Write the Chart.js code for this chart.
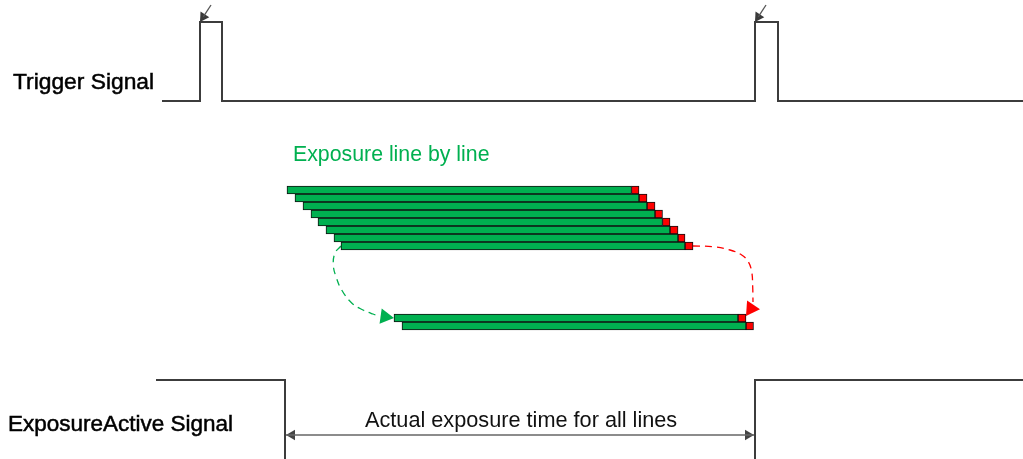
<!DOCTYPE html>
<html><head><meta charset="utf-8">
<script src="https://cdn.jsdelivr.net/npm/chart.js@4.4.0/dist/chart.umd.min.js"></script>
<style>html,body{margin:0;padding:0;background:#fff;}#wrap{width:1023px;height:459px;}</style>
</head><body><div id="wrap"><canvas id="c" width="1023" height="459"></canvas></div>
<script>
// ---- timing values (time axis units, signal level units) ----
const triggerTimes = [162, 200, 222, 755, 778, 1023];
const triggerLevels = [101, 22, 101, 22, 101, 101];
const activeTimes = [156, 285, 755, 1023];
const activeLevels = [380, 466, 380, 380];

// line-by-line exposure (upper block)
const lineRows = [190, 198, 206, 214, 222, 230, 238, 246];
const exposureStart = [287, 295, 303, 311, 318, 326, 334, 341];
const readoutStart = [631.5, 639, 647, 655, 662.5, 670, 678, 685];
const readoutEnd = [639, 647, 655, 662.5, 670, 678, 685, 693];
// last lines (lower block)
const lastRows = [318, 326];
const lastExposureStart = [394, 402];
const lastReadoutStart = [738, 746];
const lastReadoutEnd = [746, 753.5];

// dashed guide curves
const greenCurveX = [341, 335, 333.3, 336, 341.7, 351.7, 363, 373, 380];
const greenCurveY = [246, 253, 265, 276.7, 290, 303, 310, 314, 316];
const redCurveX = [693, 713, 730, 741.7, 748.3, 751.7, 752.7, 753];
const redCurveY = [246, 246.7, 250, 255, 261.7, 271.7, 286.7, 302];

// arrows: [tailX, tailY, tipX, tipY]
const triggerArrows = [[211, 5, 200, 22], [766, 5, 755, 22]];
const spanArrow = [285, 755, 435];

const texts = [
  {t: 'Trigger Signal', x: 13, y: 89, size: 22.8, color: '#000', stroke: 0.5},
  {t: 'Exposure line by line', x: 293, y: 161, size: 21.3, color: '#00b050', stroke: 0},
  {t: 'ExposureActive Signal', x: 8, y: 431, size: 22.5, color: '#000', stroke: 0.5},
  {t: 'Actual exposure time for all lines', x: 365, y: 427, size: 21.7, color: '#111', stroke: 0}
];

const GREEN = '#00b050', RED = '#ff0000', SIG = '#3c3c3c';
const pts = (xs, ys) => xs.map((x, i) => ({x, y: ys[i]}));

function head(tipX, tipY, rot, r) {
  const a = rot * Math.PI / 180;
  return {x: tipX - Math.sin(a) * r, y: tipY + Math.cos(a) * r};
}
function rotOf(dx, dy) {
  return Math.atan2(dx, -dy) * 180 / Math.PI;
}

const datasets = [];
datasets.push({type: 'line', data: pts(triggerTimes, triggerLevels), stepped: true, borderColor: SIG, borderWidth: 2, pointRadius: 0, fill: false});
datasets.push({type: 'line', data: pts(activeTimes, activeLevels), stepped: true, borderColor: SIG, borderWidth: 2, pointRadius: 0, fill: false});

const barCommon = {type: 'bar', indexAxis: 'y', grouped: false, barThickness: 8, borderColor: '#111', borderWidth: 1, borderSkipped: false};
datasets.push(Object.assign({}, barCommon, {backgroundColor: GREEN, data: lineRows.map((r, i) => ({y: r, x: [exposureStart[i], readoutStart[i]]}))}));
datasets.push(Object.assign({}, barCommon, {backgroundColor: RED, data: lineRows.map((r, i) => ({y: r, x: [readoutStart[i], readoutEnd[i]]}))}));
datasets.push(Object.assign({}, barCommon, {backgroundColor: GREEN, data: lastRows.map((r, i) => ({y: r, x: [lastExposureStart[i], lastReadoutStart[i]]}))}));
datasets.push(Object.assign({}, barCommon, {backgroundColor: RED, data: lastRows.map((r, i) => ({y: r, x: [lastReadoutStart[i], lastReadoutEnd[i]]}))}));

datasets.push({type: 'line', data: pts(greenCurveX, greenCurveY), borderColor: GREEN, borderWidth: 1.3, borderDash: [7, 5], tension: 0.4, pointRadius: 0, fill: false});
datasets.push({type: 'line', data: pts(redCurveX, redCurveY), borderColor: RED, borderWidth: 1.3, borderDash: [7, 5], tension: 0.4, pointRadius: 0, fill: false});

const gRot = 98, rRot = 214;
datasets.push({type: 'scatter', data: [head(394, 318, gRot, 9)], pointStyle: 'triangle', pointRotation: gRot, pointRadius: 9, pointBackgroundColor: GREEN, pointBorderColor: GREEN, pointBorderWidth: 0});
datasets.push({type: 'scatter', data: [head(746, 316, rRot, 9)], pointStyle: 'triangle', pointRotation: rRot, pointRadius: 9, pointBackgroundColor: RED, pointBorderColor: RED, pointBorderWidth: 0});

triggerArrows.forEach(a => {
  const rot = rotOf(a[2] - a[0], a[3] - a[1]);
  const h = head(a[2], a[3], rot, 6);
  datasets.push({type: 'line', data: [{x: a[0], y: a[1]}, h], borderColor: '#555', borderWidth: 1.3, pointRadius: 0, fill: false});
  datasets.push({type: 'scatter', data: [h], pointStyle: 'triangle', pointRotation: rot, pointRadius: 6, pointBackgroundColor: '#3a3a3a', pointBorderColor: '#3a3a3a', pointBorderWidth: 0});
});

datasets.push({type: 'line', data: [{x: spanArrow[0], y: spanArrow[2]}, {x: spanArrow[1], y: spanArrow[2]}], borderColor: '#666', borderWidth: 1.3, pointRadius: 0, fill: false});
datasets.push({type: 'scatter', data: [head(spanArrow[0] + 1, spanArrow[2], 270, 6), head(spanArrow[1] - 1, spanArrow[2], 90, 6)], pointStyle: 'triangle', pointRotation: [270, 90], pointRadius: 6, pointBackgroundColor: '#444', pointBorderColor: '#444', pointBorderWidth: 0});

const textPlugin = {
  id: 'texts',
  afterDatasetsDraw(chart) {
    const ctx = chart.ctx, sx = chart.scales.x, sy = chart.scales.y;
    ctx.save();
    ctx.textBaseline = 'alphabetic';
    ctx.textAlign = 'left';
    texts.forEach(t => {
      ctx.font = t.size + 'px "Liberation Sans", Arial, sans-serif';
      ctx.fillStyle = t.color;
      const px = sx.getPixelForValue(t.x), py = sy.getPixelForValue(t.y);
      ctx.fillText(t.t, px, py);
      if (t.stroke) {
        ctx.lineWidth = t.stroke;
        ctx.strokeStyle = t.color;
        ctx.strokeText(t.t, px, py);
      }
    });
    ctx.restore();
  }
};

new Chart(document.getElementById('c'), {
  type: 'scatter',
  data: {datasets},
  options: {
    responsive: false,
    animation: false,
    devicePixelRatio: 1,
    layout: {padding: 0, autoPadding: false},
    plugins: {legend: {display: false}, tooltip: {enabled: false}},
    scales: {
      x: {type: 'linear', min: 0, max: 1023, display: false, offset: false},
      y: {type: 'linear', min: 0, max: 459, reverse: true, display: false, offset: false}
    }
  },
  plugins: [textPlugin]
});
</script>
</body></html>
